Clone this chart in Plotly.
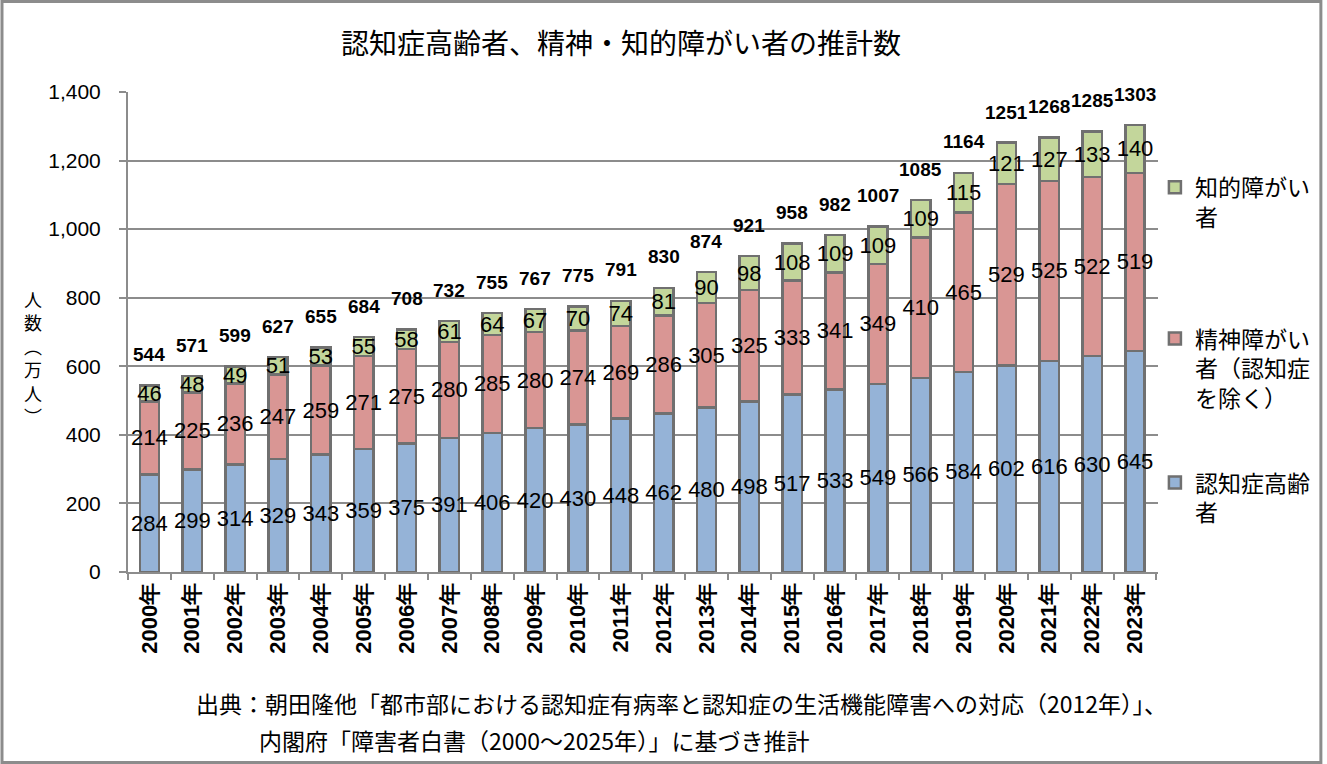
import plotly.graph_objects as go

years = ["2000年", "2001年", "2002年", "2003年", "2004年", "2005年", "2006年", "2007年",
         "2008年", "2009年", "2010年", "2011年", "2012年", "2013年", "2014年", "2015年",
         "2016年", "2017年", "2018年", "2019年", "2020年", "2021年", "2022年", "2023年"]
dementia = [284, 299, 314, 329, 343, 359, 375, 391, 406, 420, 430, 448,
            462, 480, 498, 517, 533, 549, 566, 584, 602, 616, 630, 645]
mental = [214, 225, 236, 247, 259, 271, 275, 280, 285, 280, 274, 269,
          286, 305, 325, 333, 341, 349, 410, 465, 529, 525, 522, 519]
intellectual = [46, 48, 49, 51, 53, 55, 58, 61, 64, 67, 70, 74,
                81, 90, 98, 108, 109, 109, 109, 115, 121, 127, 133, 140]
totals = [544, 571, 599, 627, 655, 684, 708, 732, 755, 767, 775, 791,
          830, 874, 921, 958, 982, 1007, 1085, 1164, 1251, 1268, 1285, 1303]

jp = "Noto Sans CJK JP"
num = "Liberation Sans"
grey = "#707070"

# name, values, colour, legend id, legend top
series = [
    ("認知症高齢<br>者", dementia, "#95b3d7", "legend3", 0.231),
    ("精神障がい<br>者（認知症<br>を除く）", mental, "#d99694", "legend2", 0.531),
    ("知的障がい<br>者", intellectual, "#c3d69b", "legend", 0.846),
]

fig = go.Figure()
for name, vals, col, leg, _ in series:
    fig.add_trace(go.Bar(
        x=years, y=vals, name=name, legend=leg, showlegend=True,
        marker=dict(color=col, line=dict(color=grey, width=2.5)),
        text=vals, textposition="inside", insidetextanchor="middle",
        textangle=0, constraintext="none", cliponaxis=False,
        insidetextfont=dict(family=num, size=22, color="black"),
    ))

# totals above the bars
for yr, t in zip(years, totals):
    fig.add_annotation(x=yr, y=t, text="<b>%d</b>" % t, showarrow=False, yshift=31,
                       font=dict(family=num, size=19, color="black"))

# vertical y axis title
fig.add_annotation(xref="paper", yref="paper", x=-0.092, y=0.446, xanchor="center", yanchor="middle",
                   text="人<br>数<br>︵<br>万<br>人<br>︶", showarrow=False,
                   font=dict(family=jp, size=18, color="black"))

# source note
fig.add_annotation(xref="paper", yref="paper", x=(194 - 128) / 1034, y=-0.273,
                   xanchor="left", yanchor="middle", showarrow=False,
                   text="出典：朝田隆他「都市部における認知症有病率と認知症の生活機能障害への対応（2012年）」、",
                   font=dict(family=jp, size=23, color="black"))
fig.add_annotation(xref="paper", yref="paper", x=(257 - 128) / 1034, y=-0.35,
                   xanchor="left", yanchor="middle", showarrow=False,
                   text="内閣府「障害者白書（2000～2025年）」に基づき推計",
                   font=dict(family=jp, size=23, color="black"))

# outer frame
fig.add_shape(type="rect", xref="paper", yref="paper",
              x0=-126.5 / 1034, x1=1 + 163.5 / 1034, y0=-190.5 / 480, y1=1 + 90.5 / 480,
              line=dict(color="#8c8c8c", width=3))

legends = {}
for name, vals, col, leg, ytop in series:
    legends[leg] = dict(x=0.997, y=ytop, xanchor="left", yanchor="top", valign="top",
                        bgcolor="rgba(0,0,0,0)", font=dict(family=jp, size=23, color="black"))

fig.update_layout(
    width=1327, height=764,
    margin=dict(l=128, r=165, t=92, b=192),
    barmode="stack", bargap=0.55, showlegend=True,
    paper_bgcolor="white", plot_bgcolor="white",
    title=dict(text="認知症高齢者、精神・知的障がい者の推計数", x=(623 - 128) / 1034, xref="paper",
               xanchor="center", y=1 - 44 / 764, yanchor="middle",
               font=dict(family=jp, size=28, color="black")),
    font=dict(family=jp, color="black"),
    **legends,
)
fig.update_xaxes(type="category", showline=True, linecolor="#8c8c8c", linewidth=2,
                 ticks="outside", tickson="boundaries", ticklen=6, tickcolor="#8c8c8c", tickwidth=2,
                 tickangle=-90, tickfont=dict(family=num, size=22, color="black", weight="bold"),
                 showgrid=False)
fig.update_yaxes(range=[0, 1400], dtick=200, tickformat=",", showline=True, linecolor="#8c8c8c",
                 linewidth=2, ticks="outside", ticklen=7, tickcolor="#8c8c8c", tickwidth=2,
                 ticklabelstandoff=14, gridcolor="#8c8c8c", gridwidth=1.5, zeroline=False,
                 tickfont=dict(family=num, size=21, color="black"))

fig.write_html("out.html", config={"displayModeBar": False},
               post_script="document.body.style.margin='0';")
